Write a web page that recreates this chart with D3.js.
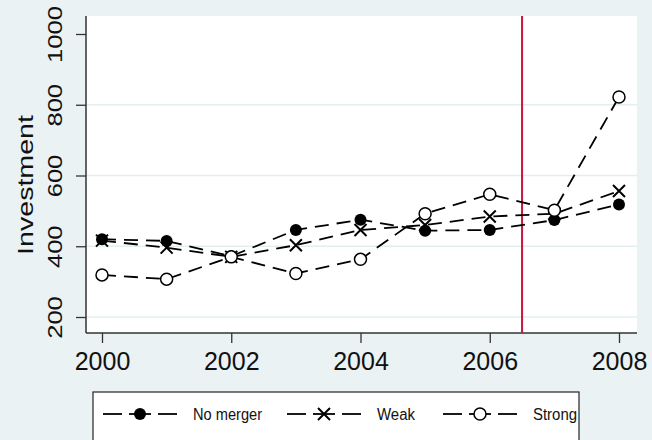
<!DOCTYPE html>
<html>
<head>
<meta charset="utf-8">
<script src="https://cdn.jsdelivr.net/npm/d3@7"></script>
<style>
  body { margin: 0; background: #eaf2f3; }
  svg { display: block; font-family: "Liberation Sans", Arial, sans-serif; }
</style>
</head>
<body>
<div id="chart"></div>
<script>
const years = [2000, 2001, 2002, 2003, 2004, 2005, 2006, 2007, 2008];
const noMerger = [420, 415, 372, 446, 475, 444, 446, 474, 518];
const weak = [416, 396, 370, 403, 446, 460, 484, 492, 556];
const strong = [319, 307, 370, 323, 363, 492, 547, 502, 822];
const yTicks = [200, 400, 600, 800, 1000];
const xTicks = [2000, 2002, 2004, 2006, 2008];
const cutYear = 2006.5;
const seriesNames = ["No merger", "Weak", "Strong"];

const W = 652, H = 440;
const plot = { left: 86, right: 637, top: 16, bottom: 333 };

const svg = d3.select("#chart")
  .append("svg")
  .attr("width", W)
  .attr("height", H);

svg.append("rect")
  .attr("width", W).attr("height", H)
  .attr("fill", "#eaf2f3");

svg.append("rect")
  .attr("x", plot.left).attr("y", plot.top)
  .attr("width", plot.right - plot.left)
  .attr("height", plot.bottom - plot.top)
  .attr("fill", "#ffffff");

const xScale = d3.scaleLinear()
  .domain([2000, 2008])
  .range([102, 619]);

const yScale = d3.scaleLinear()
  .domain([200, 1000])
  .range([317, 34]);

// gridlines
svg.append("g")
  .selectAll("line")
  .data(yTicks.filter(d => d < 1000))
  .enter()
  .append("line")
  .attr("x1", plot.left).attr("x2", plot.right)
  .attr("y1", d => yScale(d)).attr("y2", d => yScale(d))
  .attr("stroke", "#e4eef0")
  .attr("stroke-width", 1.5);

// axes
const yAxis = d3.axisLeft(yScale)
  .tickValues(yTicks)
  .tickSize(10)
  .tickPadding(0)
  .tickFormat(d3.format("d"));

const yAxisG = svg.append("g")
  .attr("transform", `translate(${plot.left},0)`)
  .call(yAxis);
yAxisG.select(".domain").remove();
yAxisG.selectAll(".tick line").attr("stroke", "#333").attr("stroke-width", 1.3);
yAxisG.selectAll(".tick text")
  .attr("x", 0).attr("y", 0)
  .attr("dy", 0)
  .attr("transform", "translate(-24,0) rotate(-90) scale(1.22,1)")
  .attr("text-anchor", "middle")
  .style("font-size", "21px")
  .attr("fill", "#111");

svg.append("line")
  .attr("x1", plot.left).attr("x2", plot.left)
  .attr("y1", plot.top).attr("y2", plot.bottom)
  .attr("stroke", "#333").attr("stroke-width", 1.5);

const xAxis = d3.axisBottom(xScale)
  .tickValues(xTicks)
  .tickSize(10)
  .tickPadding(9)
  .tickFormat(d3.format("d"));

const xAxisG = svg.append("g")
  .attr("transform", `translate(0,${plot.bottom})`)
  .call(xAxis);
xAxisG.select(".domain").remove();
xAxisG.selectAll(".tick line").attr("stroke", "#333").attr("stroke-width", 1.3);
xAxisG.selectAll(".tick text")
  .style("font-size", "25px")
  .attr("fill", "#111");

svg.append("line")
  .attr("x1", plot.left).attr("x2", plot.right)
  .attr("y1", plot.bottom).attr("y2", plot.bottom)
  .attr("stroke", "#333").attr("stroke-width", 1.5);

svg.append("text")
  .attr("transform", `translate(33,185) rotate(-90) scale(1.3,1)`)
  .attr("text-anchor", "middle")
  .style("font-size", "22px")
  .attr("fill", "#111")
  .text("Investment");

// red reference line
svg.append("line")
  .attr("x1", xScale(cutYear)).attr("x2", xScale(cutYear))
  .attr("y1", plot.top).attr("y2", plot.bottom)
  .attr("stroke", "#c8143c")
  .attr("stroke-width", 2);

// series
const series = [
  { name: seriesNames[0], values: noMerger, marker: "dot", textW: 69 },
  { name: seriesNames[1], values: weak, marker: "x", textW: 38 },
  { name: seriesNames[2], values: strong, marker: "circle", textW: 44 }
];

const line = d3.line()
  .x((d, i) => xScale(years[i]))
  .y(d => yScale(d));

function drawMarker(g, type, x, y) {
  if (type === "dot") {
    g.append("circle").attr("cx", x).attr("cy", y).attr("r", 6)
      .attr("fill", "#000");
  } else if (type === "x") {
    const s = 6;
    g.append("path")
      .attr("d", `M${x - s},${y - s}L${x + s},${y + s}M${x - s},${y + s}L${x + s},${y - s}`)
      .attr("stroke", "#000").attr("stroke-width", 2).attr("fill", "none");
  } else {
    g.append("circle").attr("cx", x).attr("cy", y).attr("r", 6)
      .attr("fill", "#fff").attr("stroke", "#000").attr("stroke-width", 1.5);
  }
}

series.forEach(s => {
  const g = svg.append("g");
  g.append("path")
    .datum(s.values)
    .attr("d", line)
    .attr("fill", "none")
    .attr("stroke", "#000")
    .attr("stroke-width", 1.8)
    .attr("stroke-dasharray", "14,8");
  s.values.forEach((v, i) => drawMarker(g, s.marker, xScale(years[i]), yScale(v)));
});

// legend
const legend = svg.append("g");
legend.append("rect")
  .attr("x", 93).attr("y", 392)
  .attr("width", 486).attr("height", 60)
  .attr("fill", "#fff")
  .attr("stroke", "#333").attr("stroke-width", 1.3);

const legendX = [103, 287, 443];
series.forEach((s, i) => {
  const x0 = legendX[i], y0 = 414;
  legend.append("line")
    .attr("x1", x0).attr("x2", x0 + 19).attr("y1", y0).attr("y2", y0)
    .attr("stroke", "#000").attr("stroke-width", 1.8);
  legend.append("line")
    .attr("x1", x0 + 55).attr("x2", x0 + 74).attr("y1", y0).attr("y2", y0)
    .attr("stroke", "#000").attr("stroke-width", 1.8);
  legend.append("line")
    .attr("x1", x0 + 26).attr("x2", x0 + 48).attr("y1", y0).attr("y2", y0)
    .attr("stroke", "#000").attr("stroke-width", 1.8);
  drawMarker(legend, s.marker, x0 + 37, y0);
  legend.append("text")
    .attr("x", x0 + 90).attr("y", y0 + 6)
    .style("font-size", "16px")
    .attr("textLength", s.textW)
    .attr("lengthAdjust", "spacingAndGlyphs")
    .attr("fill", "#111")
    .text(s.name);
});
</script>
</body>
</html>
